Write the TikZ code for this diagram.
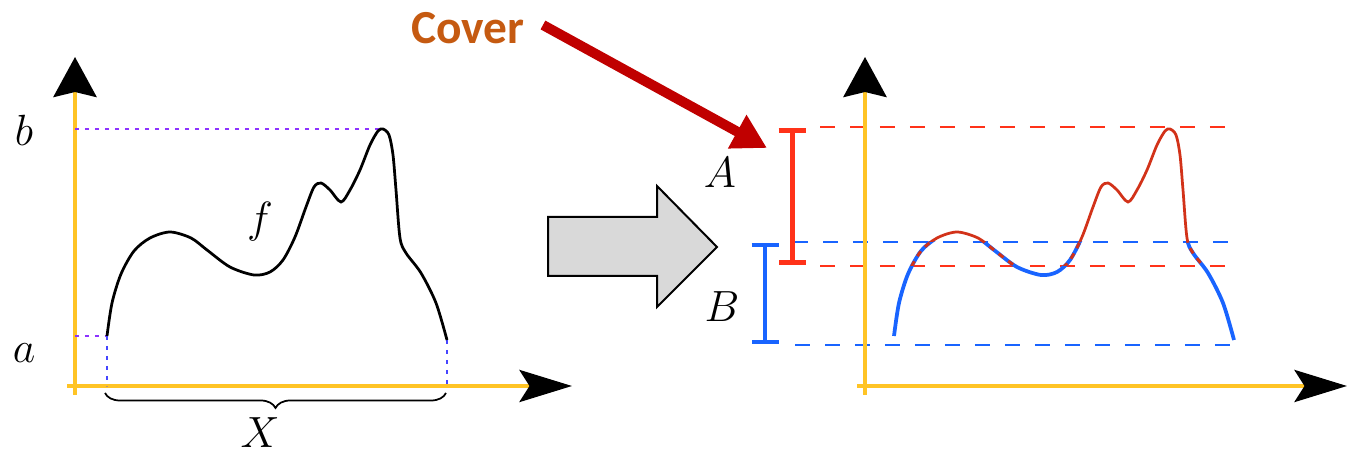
\documentclass[tikz,border=0pt]{standalone}
\usepackage{fontspec}
\newfontfamily\coverfont{Carlito}
\usetikzlibrary{arrows.meta,decorations.pathreplacing}
\definecolor{axisyellow}{RGB}{255,196,37}
\definecolor{coverorange}{RGB}{197,90,17}
\definecolor{coverred}{RGB}{192,0,0}
\definecolor{setred}{RGB}{255,50,25}
\definecolor{setblue}{RGB}{25,100,255}
\definecolor{curvered}{RGB}{210,50,25}
\definecolor{dotpurple}{RGB}{140,50,255}
\definecolor{dotblue}{RGB}{70,70,255}
\definecolor{arrowgray}{RGB}{217,217,217}
\def\fcurve{plot[smooth,tension=.5] coordinates {(107,336) (112,303) (121,274)
  (134,251) (150,238) (170,232) (191,238) (207,250) (230,267) (254,275) (270,272)
  (283,260) (295,237) (306,207) (314,187) (321,183) (330,190) (341,202) (350,190)
  (360,170) (370,145) (378,131) (383,129) (389,135) (393,155) (396,190) (400,238)
  (406,253) (421,273) (436,303) (447,340)}}
\begin{document}
\begin{tikzpicture}[x=0.02cm,y=-0.02cm,
  axis/.style={line width=0.09cm,axisyellow},
  lbl/.style={inner sep=0pt,font=\fontsize{24}{28}\selectfont},
  guide/.style={line width=0.035cm,dash pattern=on 0.08cm off 0.12cm},
  cut/.style={line width=0.04cm,dash pattern=on 0.3cm off 0.3cm},
  ival/.style={line width=0.1cm,{Bar[width=0.54cm]}-{Bar[width=0.54cm]}}]
 \useasboundingbox (0,0) rectangle (1350,455);
 % dashed cover levels
 \foreach \n/\y/\xs/\c in {at/127/820/setred,ab/266/820/setred,bt/242/793/setblue,bb/345/795/setblue}{
   \coordinate (\n0) at (\xs,\y);
   \coordinate (\n1) at (1233,\y);
   \draw[cut,\c] (\n0)--(\n1);}
 % axes
 \foreach \ox/\tx/\nm in {75/572/L,865/1347/R}{
   \coordinate (o\nm) at (\ox,386);
   \coordinate (yb\nm) at (\ox,395);
   \coordinate (yt\nm) at (\ox,57);
   \coordinate (xb\nm) at (\ox-8,386);
   \coordinate (xt\nm) at (\tx,386);
   \draw[axis,-{Stealth[length=0.8cm,width=0.86cm,inset=0.1cm,color=black]}] (yb\nm)--(yt\nm);
   \draw[axis,-{Stealth[length=1.05cm,width=0.64cm,inset=0.2cm,color=black]}] (xb\nm)--(xt\nm);}
 % left plot
 \coordinate (fs) at (107,336);
 \coordinate (fp) at (383,129);
 \coordinate (fe) at (447,340);
 \draw[guide,dotpurple] (oL|-fp)--(fp);
 \draw[guide,dotpurple] (oL|-fs)--(fs);
 \draw[guide,dotblue] (fs)--(fs|-oL);
 \draw[guide,dotblue] (fe)--(fe|-oL);
 \draw[line width=0.055cm] \fcurve;
 \node[lbl] (lb) at (24,130) {$b$};
 \node[lbl] (la) at (24,353) {$a$};
 \node[lbl] (lf) at (260,222) {$f$};
 \coordinate (br0) at (105,393);
 \coordinate (br1) at (446,393);
 \draw[decorate,decoration={brace,mirror,amplitude=0.3cm},line width=0.035cm] (br0)--(br1);
 \node[lbl] (lX) at (260,433) {$X$};
 % block arrow
 \draw[line width=0.04cm,fill=arrowgray] (548,217)--(657,217)--(657,186)--(717,247)
   --(657,307)--(657,276)--(548,276)--cycle;
 % right plot
 \begin{scope}[shift={(787,0)}]
  \begin{scope}
   \clip (0,242) rectangle (600,400);
   \draw[line width=0.075cm,setblue] \fcurve;
  \end{scope}
  \begin{scope}
   \clip (0,0) rectangle (600,242);
   \draw[line width=0.055cm,curvered] \fcurve;
  \end{scope}
  \begin{scope}
   \clip (0,242) rectangle (600,266);
   \draw[line width=0.06cm,curvered,dash pattern=on 0.12cm off 0.12cm] \fcurve;
  \end{scope}
 \end{scope}
 \coordinate (Atop) at (792,128);
 \coordinate (Abot) at (792,265);
 \coordinate (Btop) at (765,243);
 \coordinate (Bbot) at (765,344);
 \draw[ival,setred] (Atop)--(Abot);
 \draw[ival,setblue,line width=0.08cm] (Btop)--(Bbot);
 \node[lbl] (lA) at (720,173) {$A$};
 \node[lbl] (lB) at (722,307) {$B$};
 % cover callout
 \node[inner sep=0pt,text=coverorange,font=\coverfont\bfseries\fontsize{27}{32}\selectfont]
   (cover) at (468,28) {Cover};
 \coordinate (Atip) at (767,148);
 \draw[line width=0.2cm,coverred,-{Triangle[length=0.68cm,width=0.72cm]}]
   ([xshift=0.36cm,yshift=0.06cm]cover.east)--(Atip);
\end{tikzpicture}
\end{document}
